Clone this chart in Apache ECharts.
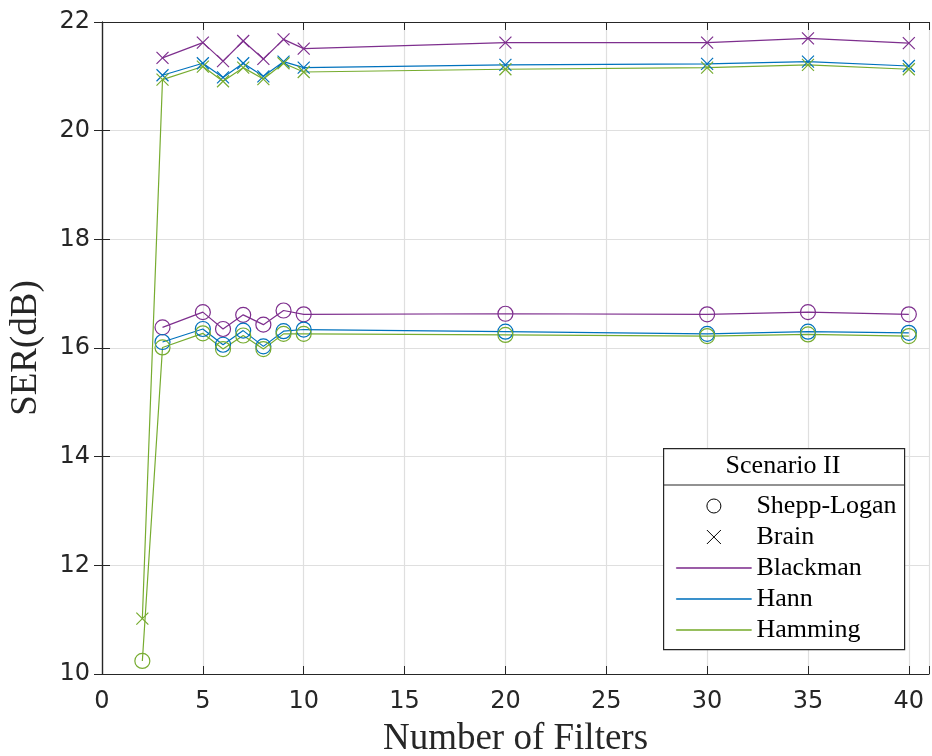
<!DOCTYPE html>
<html>
<head>
<meta charset="utf-8">
<script src="https://cdn.jsdelivr.net/npm/echarts@6/dist/echarts.min.js"></script>
<style>
html,body{margin:0;padding:0;background:#fff}
#chart{width:932px;height:756px}
</style>
</head>
<body>
<div id="chart"></div>
<script>
// number of filters
var filters_all = [2, 3, 5, 6, 7, 8, 9, 10, 20, 30, 35, 40];
var filters = [3, 5, 6, 7, 8, 9, 10, 20, 30, 35, 40];

// Shepp-Logan (o)
var blackman_sl = [16.38, 16.66, 16.35, 16.61, 16.43, 16.69, 16.62, 16.63, 16.62, 16.66, 16.62];
var hann_sl     = [16.11, 16.35, 16.06, 16.32, 16.03, 16.31, 16.34, 16.30, 16.26, 16.30, 16.28];
var hamming_sl  = [10.24, 16.01, 16.27, 15.98, 16.23, 15.98, 16.26, 16.26, 16.24, 16.22, 16.25, 16.22];

// Brain (x)
var blackman_br = [21.34, 21.62, 21.28, 21.65, 21.32, 21.68, 21.51, 21.62, 21.62, 21.70, 21.61];
var hann_br     = [21.02, 21.24, 20.98, 21.24, 21.00, 21.27, 21.16, 21.21, 21.23, 21.27, 21.19];
var hamming_br  = [11.02, 20.94, 21.18, 20.91, 21.16, 20.95, 21.24, 21.08, 21.13, 21.16, 21.21, 21.13];

var x_ticks = [0, 5, 10, 15, 20, 25, 30, 35, 40];
var y_ticks = [10, 12, 14, 16, 18, 20, 22];

var c_blackman = '#7E2F8E';
var c_hann = '#0072BD';
var c_hamming = '#77AC30';
var X_PATH = 'path://M0,0L10,10M10,0L0,10';
var LINE_PATH = 'path://M0,0L100,0L100,0.8L0,0.8Z';
var serif = '"Liberation Serif", "DejaVu Serif", serif';
var sans = '"DejaVu Sans", sans-serif';

function pairs(xs, ys) {
	var out = [];
	for (var i = 0; i < xs.length; i++) out.push([xs[i], ys[i]]);
	return out;
}

function mk(name, xs, ys, color, mark) {
	return {
		name: name,
		type: 'line',
		data: pairs(xs, ys),
		symbol: mark == 'o' ? 'circle' : X_PATH,
		symbolSize: mark == 'o' ? 15 : 12,
		showSymbol: true,
		lineStyle: {color: color, width: 1.2},
		itemStyle: {color: 'rgba(0,0,0,0)', borderColor: color, borderWidth: 1.2},
		emphasis: {disabled: true},
		silent: true
	};
}

var chart = echarts.init(document.getElementById('chart'));
var grid_line = '#dfdfdf';
var ax_col = '#262626';

var option = {
	animation: false,
	backgroundColor: '#fff',
	grid: {left: 102, top: 22, right: 3, bottom: 82, containLabel: false, outerBoundsMode: 'none'},
	xAxis: [{
		type: 'value', min: 0, max: 41, interval: 5,
		name: 'Number of Filters', nameLocation: 'middle', nameGap: 47,
		nameTextStyle: {fontFamily: serif, fontSize: 37, color: ax_col},
		axisLine: {show: true, lineStyle: {color: ax_col, width: 1.2}},
		axisTick: {show: true, inside: true, length: 8, lineStyle: {color: ax_col}},
		axisLabel: {
			margin: 16, fontFamily: sans, fontSize: 24, color: ax_col,
			formatter: function (v) { return x_ticks.indexOf(v) >= 0 ? String(v) : ''; }
		},
		splitLine: {show: true, lineStyle: {color: grid_line, width: 1.2}}
	}, {
		type: 'value', position: 'top', min: 0, max: 41, interval: 5,
		axisLine: {show: true, lineStyle: {color: ax_col, width: 1.2}},
		axisTick: {show: true, inside: true, length: 8, lineStyle: {color: ax_col}},
		axisLabel: {show: false},
		splitLine: {show: false}
	}],
	yAxis: [{
		type: 'value', min: 10, max: 22, interval: 2,
		name: 'SER(dB)', nameLocation: 'middle', nameGap: 57,
		nameTextStyle: {fontFamily: serif, fontSize: 37, color: ax_col},
		axisLine: {show: true, lineStyle: {color: ax_col, width: 1.2}},
		axisTick: {show: true, inside: true, length: 8, lineStyle: {color: ax_col}},
		axisLabel: {
			margin: 12, fontFamily: sans, fontSize: 24, color: ax_col,
			formatter: function (v) { return y_ticks.indexOf(v) >= 0 ? String(v) : ''; }
		},
		splitLine: {show: true, lineStyle: {color: grid_line, width: 1.2}}
	}, {
		type: 'value', position: 'right', min: 10, max: 22, interval: 2,
		axisLine: {show: true, lineStyle: {color: ax_col, width: 1.2}},
		axisTick: {show: true, inside: true, length: 8, lineStyle: {color: ax_col}},
		axisLabel: {show: false},
		splitLine: {show: false}
	}],
	legend: {
		orient: 'vertical', left: 671, top: 488, z: 20,
		itemWidth: 75, itemHeight: 14, itemGap: 5,
		selectedMode: false,
		textStyle: {fontFamily: serif, fontSize: 26, color: '#000'},
		data: [
			{name: 'Shepp-Logan', icon: 'circle', itemStyle: {color: 'rgba(0,0,0,0)', borderColor: '#000', borderWidth: 1}},
			{name: 'Brain', icon: X_PATH, itemStyle: {color: 'rgba(0,0,0,0)', borderColor: '#000', borderWidth: 1}},
			{name: 'Blackman', icon: LINE_PATH, itemStyle: {color: c_blackman, borderColor: c_blackman, borderWidth: 0.8}},
			{name: 'Hann', icon: LINE_PATH, itemStyle: {color: c_hann, borderColor: c_hann, borderWidth: 0.8}},
			{name: 'Hamming', icon: LINE_PATH, itemStyle: {color: c_hamming, borderColor: c_hamming, borderWidth: 0.8}}
		]
	},
	graphic: [
		{type: 'rect', left: 663, top: 448, z: 1, shape: {width: 241, height: 201},
			style: {fill: '#fff', stroke: ax_col, lineWidth: 1.2}},
		{type: 'line', z: 2, shape: {x1: 663, y1: 485, x2: 904, y2: 485},
			style: {stroke: ax_col, lineWidth: 1.2}},
		{type: 'text', x: 783, y: 466, z: 2,
			style: {text: 'Scenario II', fontFamily: serif, fontSize: 26, fill: '#000', align: 'center', verticalAlign: 'middle'}}
	],
	series: [
		{name: 'Shepp-Logan', type: 'line', data: []},
		{name: 'Brain', type: 'line', data: []},
		mk('Blackman', filters, blackman_br, c_blackman, 'x'),
		mk('Blackman', filters, blackman_sl, c_blackman, 'o'),
		mk('Hann', filters, hann_br, c_hann, 'x'),
		mk('Hann', filters, hann_sl, c_hann, 'o'),
		mk('Hamming', filters_all, hamming_br, c_hamming, 'x'),
		mk('Hamming', filters_all, hamming_sl, c_hamming, 'o')
	]
};

chart.setOption(option);
</script>
</body>
</html>
